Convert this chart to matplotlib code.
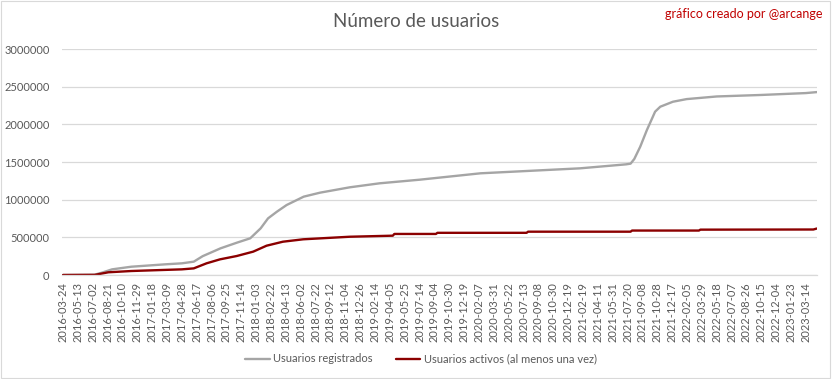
import matplotlib.pyplot as plt
from matplotlib.patches import Rectangle

plt.rcParams['font.family'] = ['Lato', 'DejaVu Sans']

# category labels shown on the x axis (one every 50 rows of the sheet)
date_labels = [
    "2016-03-24", "2016-05-13", "2016-07-02", "2016-08-21", "2016-10-10",
    "2016-11-29", "2017-01-18", "2017-03-09", "2017-04-28", "2017-06-17",
    "2017-08-06", "2017-09-25", "2017-11-14", "2018-01-03", "2018-02-22",
    "2018-04-13", "2018-06-02", "2018-07-22", "2018-09-12", "2018-11-04",
    "2018-12-26", "2019-02-14", "2019-04-05", "2019-05-25", "2019-07-14",
    "2019-09-04", "2019-10-30", "2019-12-19", "2020-02-07", "2020-03-31",
    "2020-05-22", "2020-07-13", "2020-09-08", "2020-10-30", "2020-12-19",
    "2021-02-19", "2021-04-11", "2021-05-31", "2021-07-20", "2021-09-08",
    "2021-10-28", "2021-12-17", "2022-02-05", "2022-03-29", "2022-05-18",
    "2022-07-07", "2022-08-26", "2022-10-15", "2022-12-04", "2023-01-23",
    "2023-03-14",
]

# registered users (position in label units)
reg_pos = [0, 2.1, 2.6, 3.3, 4.6, 6.9, 8.0, 8.8, 9.4, 10.6, 11.7, 12.6,
           13.3, 13.8, 14.4, 15.05, 16.2, 17.3, 19.3, 21.3, 24.0, 28.1,
           34.8, 37.9, 38.2, 38.45, 38.85, 39.3, 39.7, 39.85, 40.2, 41.05,
           41.97, 44.0, 47.0, 50.0, 50.74]
reg_users = [0, 3000, 30000, 75000, 110000, 142000, 155000, 177000, 250000,
             354000, 429000, 487000, 619000, 752000, 841000, 929000,
             1040000, 1093000, 1164000, 1217000, 1265000, 1350000,
             1416000, 1469000, 1478000, 1540000, 1703000, 1925000,
             2101000, 2168000, 2234000, 2300000, 2335000, 2370000,
             2390000, 2415000, 2428000]

# active users (at least once)
act_pos = [0, 2.15, 3.05, 4.6, 8.0, 8.8, 9.66, 10.57, 11.69, 12.8, 13.7,
           14.8, 16.17, 19.3, 22.2, 22.3, 25.1, 25.2, 31.2, 31.3, 38.2,
           38.3, 42.8, 42.9, 50.5, 50.74]
act_users = [0, 2000, 36000, 53000, 75000, 88000, 155000, 208000, 252000,
             310000, 389000, 442000, 474000, 508000, 522000, 545000, 545000,
             560000, 560000, 575000, 575000, 590000, 590000, 602000, 604000,
             617000]

txt = '#595959'

fig = plt.figure(figsize=(8.32, 3.79), dpi=100)
ax = fig.add_axes([0.0745, 0.2744, 0.9075, 0.5963])

ax.plot(reg_pos, reg_users, color='#A5A5A5', lw=1.7,
        label='Usuarios registrados', solid_capstyle='round')
ax.plot(act_pos, act_users, color='#8B0000', lw=1.7,
        label='Usuarios activos (al menos una vez)', solid_capstyle='round')

ax.set_xlim(-0.07, 50.75)
ax.set_ylim(0, 3000000)
ax.set_yticks(range(0, 3000001, 500000))
ax.set_yticklabels([str(v) for v in range(0, 3000001, 500000)])
ax.set_xticks(range(len(date_labels)))
ax.set_xticklabels(date_labels, rotation=90)
ax.tick_params(axis='both', length=0, labelsize=8, labelcolor=txt)
ax.tick_params(axis='x', pad=5)
ax.tick_params(axis='y', pad=9)
ax.grid(axis='y', color='#D9D9D9', lw=0.9)
ax.set_axisbelow(True)
for s in ['top', 'right', 'left']:
    ax.spines[s].set_visible(False)
ax.spines['bottom'].set_color('#D9D9D9')
ax.spines['bottom'].set_linewidth(0.9)

fig.text(0.5, 0.942, 'Número de usuarios', ha='center', va='center',
         fontsize=13.5, color=txt)
fig.text(0.988, 0.962, 'gráfico creado por @arcange', ha='right',
         va='center', fontsize=9, color='#C00000')

fig.legend(loc='center', bbox_to_anchor=(0.506, 0.053), ncol=2,
           frameon=False, fontsize=8, labelcolor=txt, handlelength=2.2,
           handletextpad=0.3, columnspacing=2.1)

fig.patches.append(Rectangle((0.001, 0.002), 0.997, 0.995,
                             transform=fig.transFigure, fill=False,
                             edgecolor='#D9D9D9', lw=0.8))

fig.savefig('out.png', dpi=100)
